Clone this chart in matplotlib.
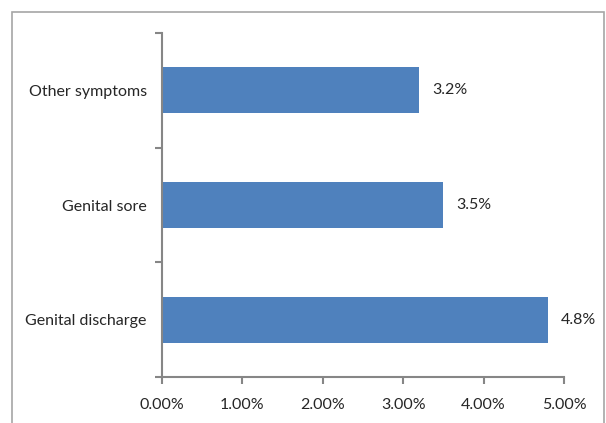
import matplotlib
matplotlib.use("Agg")
import matplotlib.pyplot as plt
from matplotlib.patches import Rectangle
from matplotlib.ticker import FuncFormatter

# Data
categories = ["Genital discharge", "Genital sore", "Other symptoms"]
values = [4.8, 3.5, 3.2]
value_labels = ["4.8%", "3.5%", "3.2%"]
x_ticks = [0, 1, 2, 3, 4, 5]

BAR_COLOR = "#4F81BD"
AXIS_COLOR = "#868686"
TEXT_COLOR = "#262626"
FS = 11.5

plt.rcParams['font.family'] = ['Lato', 'DejaVu Sans']

fig = plt.figure(figsize=(6.06, 4.23), dpi=100)
W, H = 606, 423

# outer chart frame
fig.patches.append(Rectangle((12 / W, -0.05), (604 - 12) / W, 1 - 12 / H + 0.05,
                             transform=fig.transFigure, fill=False,
                             edgecolor="#A6A6A6", linewidth=1.2))

ax = fig.add_axes([162 / W, 1 - 377 / H, (564 - 162) / W, (377 - 33) / H])

ypos = range(len(categories))
ax.barh(ypos, values, height=0.4, color=BAR_COLOR)

for y, v, lab in zip(ypos, values, value_labels):
    ax.text(v + 0.16, y, lab, va="center", ha="left", fontsize=FS, color=TEXT_COLOR)

ax.set_xlim(0, 5)
ax.set_ylim(-0.5, len(categories) - 0.5)
ax.set_xticks(x_ticks)
ax.xaxis.set_major_formatter(FuncFormatter(lambda v, p: f"{v:.2f}%"))
ax.set_yticks(list(ypos))
ax.set_yticklabels(categories)
ax.set_yticks([-0.5, 0.5, 1.5, 2.5], minor=True)

for s in ["top", "right"]:
    ax.spines[s].set_visible(False)
for s in ["left", "bottom"]:
    ax.spines[s].set_color(AXIS_COLOR)
    ax.spines[s].set_linewidth(1.5)

ax.tick_params(axis="y", which="major", length=0, pad=11, labelsize=FS, labelcolor=TEXT_COLOR)
ax.tick_params(axis="y", which="minor", length=5, width=1.5, color=AXIS_COLOR)
ax.tick_params(axis="x", length=5, width=1.5, color=AXIS_COLOR, pad=10,
               labelsize=FS, labelcolor=TEXT_COLOR)

fig.savefig("out.png", dpi=100)
